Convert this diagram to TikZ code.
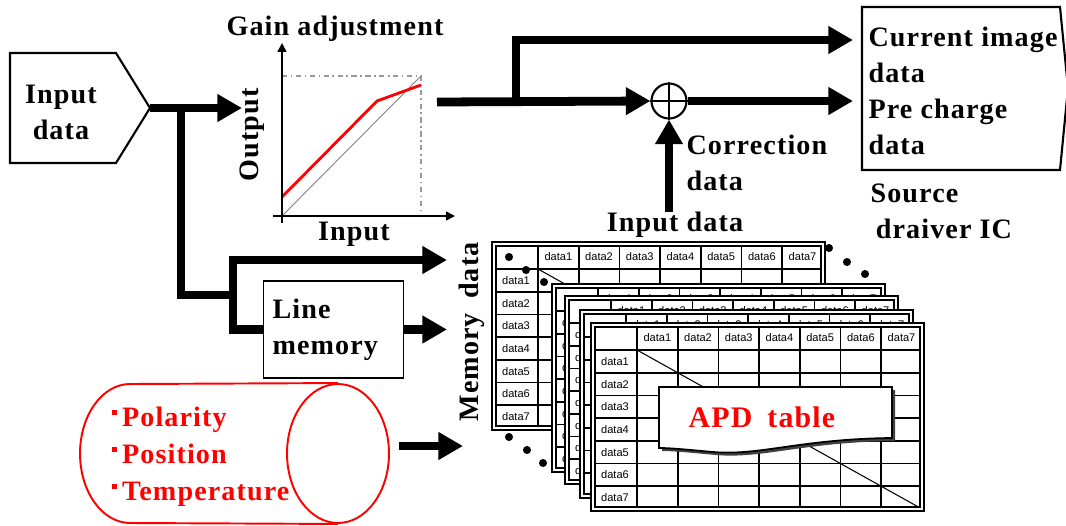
\documentclass[tikz,border=0pt]{standalone}
\usepackage{fontspec}
\setmainfont{Liberation Serif}[LetterSpace=4]
\newfontfamily\tblfont{Liberation Sans}
\usetikzlibrary{arrows.meta, positioning, calc, shapes.geometric}
\newcommand\bigfont{\fontsize{16}{20.5}\selectfont\bfseries}
\newcommand\blt{\rule[0.42em]{3pt}{3pt}\hspace{3pt}}

\begin{document}
\begin{tikzpicture}[x=0.02cm, y=-0.02cm, >={Triangle[length=14pt,width=15pt]}, semithick]
	\tikzstyle{flow}=[line width=5pt, ->]
	\tikzstyle{bus}=[line width=5pt]
	\tikzstyle{lbl}=[font=\bigfont, align=left, inner sep=0pt]
	\tikzstyle{axis}=[line width=0.9pt, -{Triangle[length=5pt,width=5pt]}]
	\tikzstyle{cell}=[font=\tblfont\fontsize{6.3}{7}\selectfont, inner sep=0pt]
	
	\useasboundingbox (0,0) rectangle (1066,525);
	
	% input data block
	\draw[line width=1.2pt] (10,53) -- (116,53) -- (150,108) -- (116,163) -- (10,163) -- cycle;
	\node[lbl, align=center] (A) at (61,112) {Input\\data};
	\coordinate (Atip) at (150,108);
	\coordinate (Gin) at (242,108);
	\coordinate (J1) at (181,108);
	\coordinate (J2) at (233,295);
	
	% gain adjustment graph
	\draw[gray!80, line width=0.9pt, dash dot] (282,76) -- (421,76) -- (421,216);
	\draw[gray, line width=0.5pt] (282,216) -- (421,76);
	\draw[red, line width=1.6pt] (282,197) -- (377,101) -- (421,85);
	\draw[axis] (282,223) -- (282,43);
	\draw[axis] (273,216) -- (455,216);
	\node[lbl] (gain) at (335,29) {Gain adjustment};
	\node[lbl, rotate=90] (out) at (252,135) {Output};
	\node[lbl] (in) at (354,234) {Input};
	
	% line memory
	\node[draw, line width=1.1pt, font=\bigfont, align=left, text width=2.44cm,
	      minimum height=1.94cm, inner sep=0.18cm] (LM) at (333.5,329.5) {Line\\memory};
	\coordinate (M1) at (447,260);
	\coordinate (M2) at (447,329.5);
	
	\draw[flow] (Atip) -- (Gin);
	\draw[bus] (J1) |- (J2);
	\draw[flow] (J2) |- (M1);
	\draw[bus] (J2) |- (LM.west);
	\draw[flow] (LM.east) -- (M2);
	
	% adder and outputs
	\coordinate (G) at (437,102);
	\coordinate (J3) at (516,102);
	\coordinate (C1) at (853,40);
	\coordinate (C2) at (853,101);
	\node[circle, draw, line width=1.2pt, minimum size=0.7cm, inner sep=0pt] (S) at (669,101) {};
	\draw[line width=1.2pt] (S.north) -- (S.south) (S.west) -- (S.east);
	\draw[flow] (G) -- (S.west);
	\draw[flow] (J3) |- (C1);
	\draw[flow] (S.east) -- (C2);
	
	\node[lbl] (T) at (675,225) {Input data};
	\draw[flow] (S |- T.north) -- (S.south);
	\node[lbl, anchor=west] (corr) at (686,163) {Correction\\data};
	
	% source driver
	\draw[line width=1.2pt] (862,7) -- (1060,7) -- (1068,88) -- (1060,170) -- (862,170) -- cycle;
	\node[lbl, anchor=west] (D) at (868,91) {Current image\\data\\Pre charge\\data};
	\node[lbl, anchor=west] (src) at (870,211) {Source\\\hspace{3pt}draiver IC};
	
	% parameters
	\node[ellipse, draw=red, line width=1.1pt, minimum width=2.04cm, minimum height=2.78cm] (cyl) at (338,453.5) {};
	\draw[red, line width=1.1pt] (130,384) -- (cyl.north) (130,523) -- (cyl.south);
	\draw[red, line width=1.1pt] (130,384) arc[start angle=90, end angle=270, x radius=1cm, y radius=1.39cm];
	\node[lbl, red, font=\fontsize{16}{21}\selectfont\bfseries, anchor=west] (P) at (111,457)
	     {\blt Polarity\\\blt Position\\\blt Temperature};
	\coordinate (M3) at (463,446);
	\draw[flow] ([xshift=5pt]cyl.east |- M3) -- (M3);
	
	\node[lbl, rotate=90] (mem) at (472,332) {Memory\enspace data};
	
	% stacked APD tables
	\foreach \tx/\ty [count=\n] in {494/244, 554/286, 567/298, 582/312, 593/325} {
		\begin{scope}[shift={(\tx,\ty)}]
			\fill[white] (0,0) rectangle (329,184);
			\foreach \i in {0,...,7} \draw[line width=1pt] (44+40.7*\i,0) -- (44+40.7*\i,184);
			\foreach \j in {0,...,7} \draw[line width=1pt] (0,25+22.7*\j) -- (329,25+22.7*\j);
			\draw[line width=0.6pt] (44,25) -- (329,184);
			\draw[line width=1pt, double, double distance=1pt] (0,0) rectangle (329,184);
			\foreach \k in {1,...,7} {
				\node[cell] (c\n\k) at (44+40.7*\k-20.35,12.5) {data\k};
				\node[cell] (r\n\k) at (22,25+22.7*\k-11.35) {data\k};
			}
		\end{scope}
	}
	\foreach \p in {(509,257),(526,270),(544,282),(829,248),(847,262),(865,274),(509,437),(527,450),(543,463)}
		\fill \p circle[radius=2.3pt];
	
	% callout with shadow
	\fill[black!75] (662,390) -- (895,390) -- (895,441)
	     .. controls (803,442) and (763,459) .. (716,455) .. controls (693,453) and (675,451) .. (662,451) -- cycle;
	\draw[fill=white, line width=1pt] (659,387) -- (892,387) -- (892,438)
	     .. controls (800,439) and (760,456) .. (713,452) .. controls (690,450) and (672,448) .. (659,448) -- cycle;
	\node[red, font=\fontsize{17}{20}\selectfont\bfseries, inner sep=0pt] (apd) at (762,417) {APD\enspace table};
\end{tikzpicture}
\end{document}
